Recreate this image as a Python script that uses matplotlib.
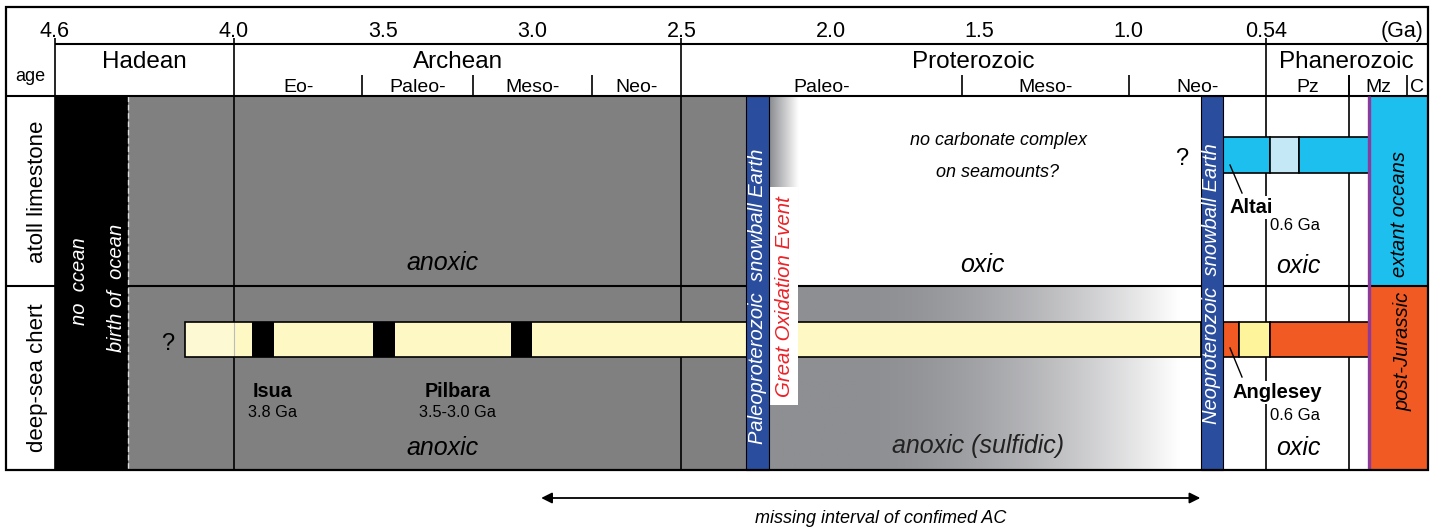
import numpy as np
import matplotlib
matplotlib.use("Agg")
import matplotlib.pyplot as plt
from matplotlib.patches import Rectangle
from matplotlib.colors import to_rgb

plt.rcParams['font.family'] = ['Liberation Sans', 'DejaVu Sans']

# ---------------- data ----------------
scale_ticks = [4.6, 4.0, 3.5, 3.0, 2.5, 2.0, 1.5, 1.0, 0.54]
scale_labels = ['4.6', '4.0', '3.5', '3.0', '2.5', '2.0', '1.5', '1.0', '0.54']
eon_names = ['Hadean', 'Archean', 'Proterozoic', 'Phanerozoic']
eon_bounds = [4.6, 4.0, 2.5, 0.54, 0.0]
archean_sub = ['Eo-', 'Paleo-', 'Meso-', 'Neo-']
archean_bounds = [4.0, 3.57, 3.2, 2.8, 2.5]
proterozoic_sub = ['Paleo-', 'Meso-', 'Neo-']
proterozoic_bounds = [2.5, 1.56, 1.0, 0.54]
phanerozoic_sub = ['Pz', 'Mz', 'C']
phanerozoic_bounds = [0.54, 0.26, 0.066, 0.0]

no_ocean_span = (4.6, 4.355)
snowball_spans = [(2.283, 2.206), (0.758, 0.685)]
snowball_names = ['Paleoproterozoic  snowball Earth', 'Neoproterozoic  snowball Earth']
goe_span = (2.206, 2.108)
jurassic_age = 0.194
sulfidic_fade = (1.9, 0.83)

chert_start = 4.164
chert_black = [(3.94, 3.866), (3.534, 3.46), (3.071, 3.0)]
chert_phan_spans = [(0.685, 0.63), (0.63, 0.525), (0.525, 0.194)]
chert_phan_colors = ['#f15a22', '#fef49b', '#f15a22']
atoll_spans = [(0.685, 0.525), (0.525, 0.428), (0.428, 0.194)]
atoll_colors = ['#1dbfee', '#c5e8f7', '#1dbfee']

sites = ['Isua', 'Pilbara']
site_ages = [3.87, 3.25]
site_labels = ['3.8 Ga', '3.5-3.0 Ga']
missing_interval = (2.97, 0.76)

# ---------------- layout ----------------
W, H = 1437, 527
PX_PER_GA = 1372 / 4.6


def X(p):
    """pixel column -> age (Ga)"""
    return 4.6 - (p - 55) / PX_PER_GA


Y_TOP, Y_SCALE, Y_HEAD, Y_MID, Y_BOT = 7, 44, 96, 286, 470
CHERT_Y = (322, 357)
ATOLL_Y = (137, 173)

GRAY = '#808080'
BLUE = '#2a4d9e'
PALE = '#fdf8c4'
PURPLE = '#8d3a9d'
RED = '#ec2227'

fig = plt.figure(figsize=(W / 100, H / 100), dpi=100)
ax = fig.add_axes([0, 0, 1, 1])
ax.axis('off')

LW = 1.2


def rect(a0, a1, y0, y1, fc, ec='none', lw=0, z=1):
    ax.add_patch(Rectangle((a1, y0), a0 - a1, y1 - y0, facecolor=fc,
                           edgecolor=ec, linewidth=lw, zorder=z))


def vline(a, y0, y1, color='black', lw=LW, z=3, **kw):
    ax.plot([a, a], [y0, y1], color=color, lw=lw, zorder=z,
            solid_capstyle='butt', **kw)


def hline(a0, a1, y, color='black', lw=LW, z=3):
    ax.plot([a0, a1], [y, y], color=color, lw=lw, zorder=z, solid_capstyle='butt')


def gradient(a0, a1, y0, y1, colors, z=1.5):
    arr = np.array(colors)[None, :, :]
    ax.imshow(arr, extent=(a0, a1, y1, y0), aspect='auto',
              interpolation='bilinear', zorder=z)


# ---------------- backgrounds ----------------
rect(no_ocean_span[0], no_ocean_span[1], Y_HEAD, Y_BOT, 'black', z=1)
rect(no_ocean_span[1], snowball_spans[0][0], Y_HEAD, Y_BOT, GRAY, z=1)

# atoll row after GOE: short fade to white
g0 = np.array(to_rgb('#8a8b8f'))
N = 64
t = np.linspace(0, 1, N)
cols = [g0 + (1 - g0) * ti for ti in t]
gradient(snowball_spans[0][1], goe_span[1], Y_HEAD, Y_MID, cols)

# deep-sea row: sulfidic gray fading out toward Neoproterozoic
g1 = np.array(to_rgb('#8e8f93'))
N = 400
ages = np.linspace(snowball_spans[0][1], snowball_spans[1][0], N)
cols = []
for a in ages:
    if a >= sulfidic_fade[0]:
        f = 0.0
    elif a <= sulfidic_fade[1]:
        f = 1.0
    else:
        f = ((sulfidic_fade[0] - a) / (sulfidic_fade[0] - sulfidic_fade[1])) ** 1.7
    cols.append(g1 + (1 - g1) * f)
gradient(snowball_spans[0][1], snowball_spans[1][0], Y_MID, Y_BOT, cols)

# right-hand extant / post-Jurassic columns
rect(jurassic_age, 0.0, Y_HEAD, Y_MID, '#1dbfee', z=1)
rect(jurassic_age, 0.0, Y_MID, Y_BOT, '#f15a22', z=1)

# ---------------- grid lines ----------------
# eon boundaries, running down through the rows
for a in [4.6, 4.0, 2.5, 0.54]:
    vline(a, 38, Y_BOT, z=2.5)
vline(phanerozoic_bounds[1], 75, Y_BOT, z=2.5)
for bounds in (archean_bounds, proterozoic_bounds, phanerozoic_bounds):
    for a in bounds[1:-1]:
        vline(a, 75, Y_HEAD, z=2.5)

# birth of ocean dashed line
vline(no_ocean_span[1], Y_HEAD, Y_BOT, color='#dddddd', lw=1.0, z=2.6,
      linestyle=(0, (4, 2)))

hline(4.6, 0.0, Y_SCALE, lw=1.5)
hline(X(6), 0.0, Y_HEAD, lw=1.5)
hline(X(6), 0.0, Y_MID, lw=1.5)

# outer frame
ax.add_patch(Rectangle((X(1428), Y_TOP), X(6) - X(1428), Y_BOT - Y_TOP,
                       facecolor='none', edgecolor='black', lw=1.6, zorder=6))

# ---------------- bars ----------------
# deep-sea chert bar
rect(chert_start, 4.0, *CHERT_Y, '#fdf9d3', z=4)
rect(4.0, snowball_spans[1][0], *CHERT_Y, PALE, z=4)
vline(4.0, CHERT_Y[0], CHERT_Y[1], color='#bbbbbb', lw=0.8, z=4.1)
for a0, a1 in chert_black:
    rect(a0, a1, *CHERT_Y, 'black', z=4.2)
ax.add_patch(Rectangle((snowball_spans[1][0], CHERT_Y[0]),
                       chert_start - snowball_spans[1][0], CHERT_Y[1] - CHERT_Y[0],
                       facecolor='none', edgecolor='black', lw=LW, zorder=4.3))
for (a0, a1), c in zip(chert_phan_spans, chert_phan_colors):
    rect(a0, a1, *CHERT_Y, c, ec='black', lw=LW, z=4)

# atoll limestone bar
for (a0, a1), c in zip(atoll_spans, atoll_colors):
    rect(a0, a1, *ATOLL_Y, c, ec='black', lw=LW, z=4)

# snowball bars
for a0, a1 in snowball_spans:
    rect(a0, a1, Y_HEAD, Y_BOT, BLUE, ec='black', lw=0.8, z=5)

# GOE white box
rect(goe_span[0], goe_span[1], 187, 405, 'white', z=4.5)

# Jurassic purple line
vline(jurassic_age, Y_HEAD, Y_BOT, color=PURPLE, lw=2.4, z=5)

# ---------------- texts ----------------
for a, s in zip(scale_ticks, scale_labels):
    ax.text(a, 37, s, ha='center', va='baseline', fontsize=15.5)
ax.text(X(1423), 37, '(Ga)', ha='right', va='baseline', fontsize=15.5)

for i, s in enumerate(eon_names):
    ax.text((eon_bounds[i] + eon_bounds[i + 1]) / 2, 68, s,
            ha='center', va='baseline', fontsize=17.5)
for names, bounds in ((archean_sub, archean_bounds),
                      (proterozoic_sub, proterozoic_bounds),
                      (phanerozoic_sub, phanerozoic_bounds)):
    for i, s in enumerate(names):
        ax.text((bounds[i] + bounds[i + 1]) / 2, 92, s,
                ha='center', va='baseline', fontsize=14)
ax.text(X(30), 81, 'age', ha='center', va='baseline', fontsize=13)


def vtext(xp, yc, s, **kw):
    ax.text(X(xp), yc, s, rotation=90, rotation_mode='anchor',
            ha='center', va='baseline', zorder=7, **kw)


vtext(43, 192, 'atoll limestone', fontsize=16)
vtext(43, 378, 'deep-sea chert', fontsize=16)
vtext(85, 281, 'no  ccean', fontsize=14.5, color='white', style='italic')
vtext(122, 288, 'birth of  ocean', fontsize=14.5, color='white', style='italic')
vtext(763, 296, snowball_names[0], fontsize=14.5, color='white', style='italic')
vtext(790, 297, 'Great Oxidation Event', fontsize=14.7, color=RED, style='italic')
vtext(1217, 284, snowball_names[1], fontsize=14.5, color='white', style='italic')
vtext(1405, 214, 'extant oceans', fontsize=14.5, style='italic')
vtext(1409, 351, 'post-Jurassic', fontsize=14.5, style='italic')

for yb in (270, 455):
    ax.text(X(443), yb, 'anoxic', ha='center', va='baseline', fontsize=18,
            style='italic', zorder=7)
ax.text(X(982), 272, 'oxic', ha='center', va='baseline', fontsize=18,
        style='italic', zorder=7)
ax.text(X(978), 453, 'anoxic (sulfidic)', ha='center', va='baseline',
        fontsize=18, style='italic', color='#222222', zorder=7)
ax.text(X(998), 145, 'no carbonate complex', ha='center', va='baseline',
        fontsize=13, style='italic', zorder=7)
ax.text(X(998), 177, 'on seamounts?', ha='center', va='baseline',
        fontsize=13, style='italic', zorder=7)
ax.text(X(1182), 165, '?', ha='center', va='baseline', fontsize=17, zorder=7)
ax.text(X(168), 350, '?', ha='center', va='baseline', fontsize=17, zorder=7)

for yb in (273, 455):
    ax.text(X(1298), yb, 'oxic', ha='center', va='baseline', fontsize=18,
            style='italic', zorder=7)

# Altai / Anglesey
box = dict(facecolor='white', edgecolor='none', pad=1.5)
ax.plot([X(1230), X(1242)], [165, 193], color='black', lw=1.0, zorder=7)
ax.text(X(1251), 213, 'Altai', ha='center', va='baseline', fontsize=14.5,
        fontweight='bold', bbox=box, zorder=7)
ax.text(X(1270), 230, '0.6 Ga', ha='left', va='baseline', fontsize=12, zorder=7)
ax.plot([X(1230), X(1242)], [348, 377], color='black', lw=1.0, zorder=7)
ax.text(X(1277), 398, 'Anglesey', ha='center', va='baseline', fontsize=14.5,
        fontweight='bold', bbox=box, zorder=7)
ax.text(X(1270), 420, '0.6 Ga', ha='left', va='baseline', fontsize=12, zorder=7)

for name, a, lab in zip(sites, site_ages, site_labels):
    ax.text(a, 397, name, ha='center', va='baseline', fontsize=14.2,
            fontweight='bold', zorder=7)
    ax.text(a, 417, lab, ha='center', va='baseline', fontsize=11.7, zorder=7)

# missing interval arrow
ax.annotate('', xy=(missing_interval[1], 498), xytext=(missing_interval[0], 498),
            arrowprops=dict(arrowstyle='<|-|>', color='black', lw=1.3,
                            mutation_scale=16, shrinkA=0, shrinkB=0))
ax.text((missing_interval[0] + missing_interval[1]) / 2 - 0.035, 523,
        'missing interval of confimed AC', ha='center', va='baseline',
        fontsize=13, style='italic')

ax.set_xlim(X(0), X(W))
ax.set_ylim(H, 0)
fig.savefig('out.png', dpi=100)
